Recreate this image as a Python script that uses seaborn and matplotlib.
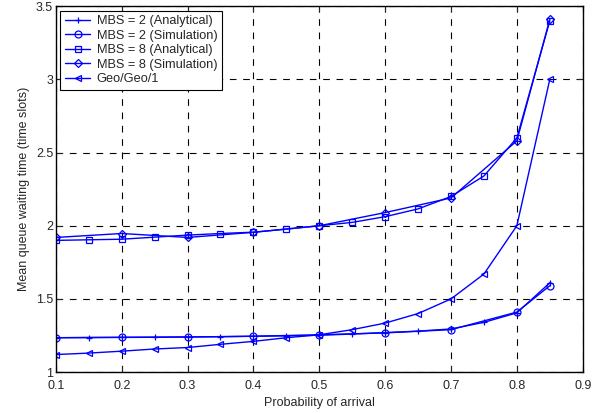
import matplotlib
matplotlib.use("Agg")
import matplotlib.pyplot as plt
import seaborn as sns
import numpy as np
import pandas as pd
from matplotlib.ticker import FormatStrFormatter

# arrival probabilities
p_fine = [0.1, 0.15, 0.2, 0.25, 0.3, 0.35, 0.4, 0.45, 0.5, 0.55, 0.6, 0.65, 0.7, 0.75, 0.8, 0.85]
p_coarse = [0.1, 0.2, 0.3, 0.4, 0.5, 0.6, 0.7, 0.8, 0.85]

mbs2_analytical = [1.235, 1.236, 1.237, 1.238, 1.24, 1.242, 1.245, 1.248, 1.252, 1.26, 1.27, 1.28, 1.295, 1.34, 1.405, 1.61]
mbs2_simulation = [1.235, 1.238, 1.24, 1.245, 1.255, 1.268, 1.29, 1.41, 1.59]
mbs8_analytical = [1.90, 1.904, 1.908, 1.922, 1.936, 1.947, 1.956, 1.977, 2.0, 2.023, 2.062, 2.115, 2.2, 2.34, 2.6, 3.4]
mbs8_simulation = [1.92, 1.947, 1.92, 1.955, 2.0, 2.09, 2.19, 2.58, 3.41]
geo_geo_1 = [1.12, 1.13, 1.143, 1.158, 1.168, 1.19, 1.21, 1.235, 1.255, 1.29, 1.335, 1.40, 1.50, 1.67, 2.0, 3.0]

series = [
    ("MBS = 2 (Analytical)", p_fine, mbs2_analytical, "+"),
    ("MBS = 2 (Simulation)", p_coarse, mbs2_simulation, "o"),
    ("MBS = 8 (Analytical)", p_fine, mbs8_analytical, "s"),
    ("MBS = 8 (Simulation)", p_coarse, mbs8_simulation, "D"),
    ("Geo/Geo/1", p_fine, geo_geo_1, "<"),
]

sns.set_style("white")
plt.rcParams["font.family"] = ["Liberation Sans", "DejaVu Sans"]

fig = plt.figure(figsize=(6.07, 4.13), dpi=100)
ax = fig.add_axes([0.092, 0.099, 0.868, 0.886])

for name, xs, ys, mk in series:
    df = pd.DataFrame({"p": xs, "w": ys})
    sns.lineplot(data=df, x="p", y="w", ax=ax, color="#0000ff", lw=1.0,
                 marker=mk, markersize=5 if mk != "D" else 4, mfc="none",
                 mec="#0000ff", mew=0.9, label=name)

ax.set_xlim(0.1, 0.9)
ax.set_ylim(1, 3.5)
ax.set_xticks(np.arange(0.1, 0.91, 0.1))
ax.set_yticks([1, 1.5, 2, 2.5, 3, 3.5])
ax.xaxis.set_major_formatter(FormatStrFormatter("%g"))
ax.yaxis.set_major_formatter(FormatStrFormatter("%g"))
ax.grid(True, color="black", linestyle=(0, (6, 6)), linewidth=0.8)
ax.tick_params(direction="in", length=4, labelsize=9, top=True, right=True,
               bottom=True, left=True)
ax.tick_params(axis="x", pad=6)
ax.tick_params(axis="y", pad=2)
for s in ax.spines.values():
    s.set_color("black")
    s.set_linewidth(1.0)

ax.set_xlabel("Probability of arrival", fontsize=9, labelpad=3)
ax.set_ylabel("Mean queue waiting time (time slots)", fontsize=9)

leg = ax.legend(loc="upper left", fontsize=9.2, frameon=True, fancybox=False,
                edgecolor="black", borderpad=0.35, labelspacing=0.2,
                handlelength=2.0, handletextpad=0.5, borderaxespad=0.35)
leg.get_frame().set_linewidth(0.8)
leg.get_frame().set_alpha(1)

fig.savefig("out.png", dpi=100)
